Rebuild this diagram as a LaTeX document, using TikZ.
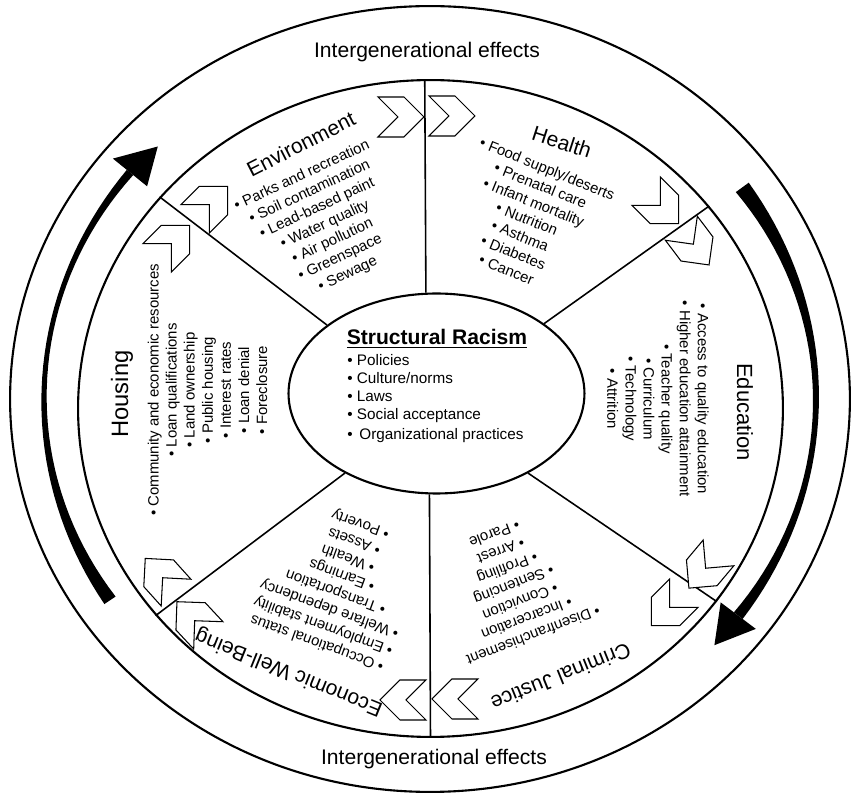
\documentclass[tikz,border=0pt]{standalone}
\usepackage{fontspec}
\setmainfont{Liberation Sans}
\usetikzlibrary{shapes.geometric}

\begin{document}
\begin{tikzpicture}[
  x=0.02cm, y=0.02cm,
  rim/.style={draw, ellipse, line width=1.2pt, inner sep=0pt},
  spoke/.style={line width=0.9pt},
  ttl/.style={font=\fontsize{12}{14}\selectfont, inner sep=0pt},
  lst/.style={font=\fontsize{8.5}{10.3}\selectfont, align=center, inner sep=0pt},
  chev/.pic={\filldraw[fill=white, draw=black, line width=0.6pt]
    (-21,20) -- (5,20) -- (25,0) -- (5,-20) -- (-21,-20) -- (-1,0) -- cycle;},
  declare function={wl(\t)=5+2*(\t-176)/34+5*(\t-176)*(\t-176)/1156;
                    wr(\t)=6+3*(\t-1)/35+7*(\t-1)*(\t-1)/1225;}
]
\useasboundingbox (-430,-395) rectangle (423,399);

% rings
\node[rim, minimum width=16.8cm, minimum height=15.72cm] (outer) at (0,0) {};
\node[rim, minimum width=14.1cm, minimum height=13.14cm] (wheel) at (0.5,-9.5) {};
\node[rim, minimum width=5.92cm, minimum height=4cm] (core) at (6.5,5.5) {};

% spokes
\draw[spoke] (core.96.6) -- (wheel.91);
\draw[spoke] (core.33.3) -- (wheel.36.8);
\draw[spoke] (core.-41) -- (wheel.-34.9);
\draw[spoke] (core.266.3) -- (wheel.270);
\draw[spoke] (core.221.3) -- (wheel.217.3);
\draw[spoke] (core.148.2) -- (wheel.142.9);

% black arrows in the ring
\fill plot[domain=214:141, samples=40, variable=\t]
  ({(386+wl(\t)/2)*cos(\t)}, {(360+wl(\t)/2)*sin(\t)})
  -- plot[domain=141:214, samples=40, variable=\t]
  ({(386-wl(\t)/2)*cos(\t)}, {(360-wl(\t)/2)*sin(\t)}) -- cycle;
\coordinate (lo) at (-317.1,240.4);
\coordinate (li) at (-282.9,212.7);
\coordinate (ltip) at (-272.2,252.5);
\fill (lo) -- (ltip) -- (li) -- cycle;

\fill plot[domain=36:-37, samples=40, variable=\t]
  ({(386+wr(\t)/2)*cos(\t)}, {(360+wr(\t)/2)*sin(\t)})
  -- plot[domain=-37:36, samples=40, variable=\t]
  ({(386-wr(\t)/2)*cos(\t)}, {(360-wr(\t)/2)*sin(\t)}) -- cycle;
\coordinate (ro) at (325.8,-229.9);
\coordinate (ri) at (290.7,-203.4);
\coordinate (rtip) at (284.4,-246.2);
\fill (ro) -- (rtip) -- (ri) -- cycle;

% chevrons
\pic at (-31,282) {chev};
\pic at (20,283) {chev};
\pic[rotate=-45] at (231,193) {chev};
\pic[rotate=-53] at (264,154) {chev};
\pic[rotate=-130] at (275,-170) {chev};
\pic[rotate=-135] at (239,-209) {chev};
\pic[rotate=180] at (27,-300) {chev};
\pic[rotate=180] at (-25,-301) {chev};
\pic[rotate=133] at (-236,-221) {chev};
\pic[rotate=132] at (-268,-178) {chev};
\pic[rotate=45] at (-258,156) {chev};
\pic[rotate=45] at (-220,195) {chev};

% texts
\node[ttl, anchor=base] (ieTop) at (-3,341) {Intergenerational effects};
\node[ttl, anchor=base] (ieBot) at (4,-366) {Intergenerational effects};

\node[font=\bfseries\fontsize{12}{14}\selectfont, anchor=base, inner sep=0pt] (srTitle) at (7,54) {\underline{Structural Racism}};
\node[font=\fontsize{8.7}{10.2}\selectfont, align=left, anchor=north west, inner sep=0pt] (srList) at (-83,45)
  {• Policies\\ • Culture/norms\\ • Laws\\ • Social acceptance\\[1.6pt] •\, Organizational practices};

\node[ttl, rotate=27] (envT) at (-129,255) {Environment};
\node[lst, rotate=25] (envL) at (-105,174) {• Parks and recreation\\ • Soil contamination\\ • Lead-based paint\\ • Water quality\\ • Air pollution\\ • Greenspace\\ • Sewage};

\node[ttl, rotate=-18] (hltT) at (132,257) {Health};
\node[lst, rotate=-22] (hltL) at (97,180) {• Food supply/deserts\\ • Prenatal care\\ • Infant mortality\\ • Nutrition\\ • Asthma\\ • Diabetes\\ • Cancer};

\node[ttl, font=\fontsize{13.5}{15}\selectfont, rotate=90] (houT) at (-308,5) {Housing};
\node[lst, rotate=90] (houL) at (-222.5,9) {• Community and economic resources\\ • Loan qualifications\\ • Land ownership\\ • Public housing\\ • Interest rates\\ • Loan denial\\ • Foreclosure};

\node[ttl, font=\fontsize{12.5}{15}\selectfont, rotate=-90] (eduT) at (315,-13) {Education};
\node[lst, rotate=-90] (eduL) at (228,0) {• Access to quality education\\ • Higher education attainment\\ • Teacher quality\\ • Curriculum\\ • Technology\\ • Attrition};

\node[ttl, rotate=-158] (cjT) at (131,-278) {Criminal Justice};
\node[lst, rotate=-159] (cjL) at (84,-186) {• Disenfranchisement\\ • Incarceration\\ • Conviction\\ • Sentencing\\ • Profiling\\ • Arrest\\ • Parole};

\node[ttl, rotate=158] (ewT) at (-141,-273) {Economic Well-Being};
\node[lst, rotate=160] (ewL) at (-91,-184) {• Occupational status\\ • Employment stability\\ • Welfare dependency\\ • Transportation\\ • Earnings\\ • Wealth\\ • Assets\\ • Poverty};
\end{tikzpicture}
\end{document}
